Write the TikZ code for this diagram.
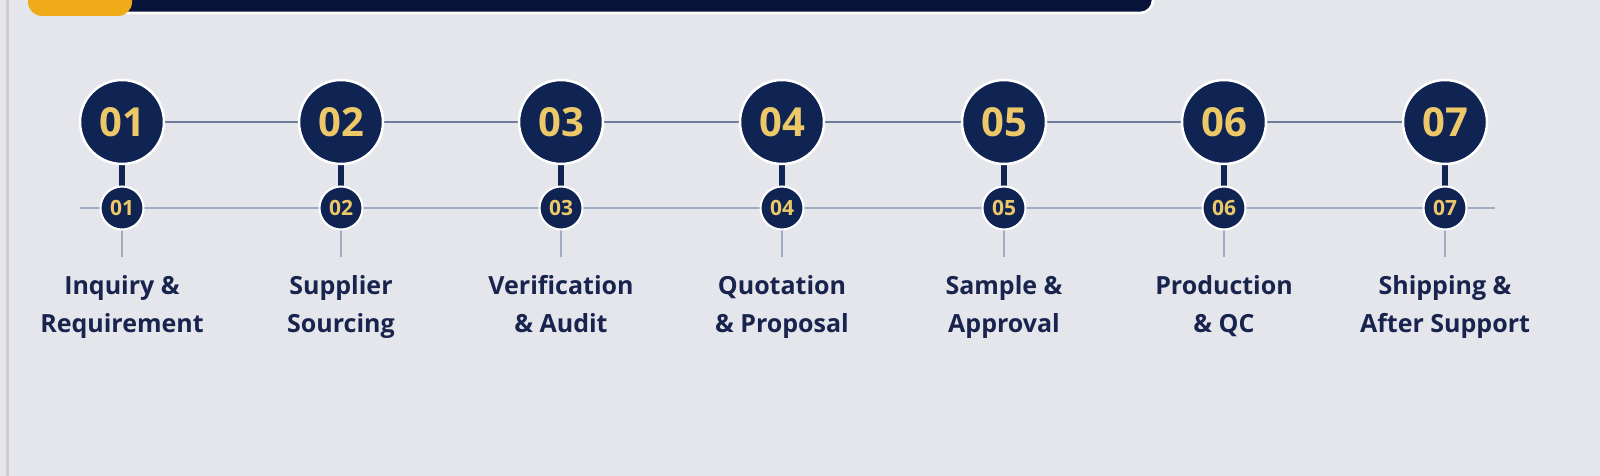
\documentclass[tikz,border=0pt]{standalone}
\usepackage{fontspec}
\setmainfont{Open Sans}
\definecolor{bgc}{RGB}{229,230,235}
\definecolor{navy}{RGB}{16,36,84}
\definecolor{navydark}{RGB}{8,20,58}
\definecolor{gold}{RGB}{236,200,105}
\definecolor{amber}{RGB}{240,172,24}
\definecolor{linec}{RGB}{110,124,155}
\definecolor{linel}{RGB}{160,172,195}
\definecolor{textc}{RGB}{24,36,78}
\tikzset{
  bigc/.style={circle,fill=navy,draw=white,line width=2.5pt,minimum size=84pt,inner sep=0pt,
    text=gold,font=\fontsize{40}{40}\selectfont\bfseries},
  smallc/.style={circle,fill=navy,draw=white,line width=2pt,minimum size=43pt,inner sep=0pt,
    text=gold,font=\fontsize{21}{21}\selectfont\bfseries},
  lbl/.style={align=center,text=textc,font=\fontsize{25}{38}\selectfont\bfseries,inner sep=0pt,anchor=north},
  topline/.style={draw=linec,line width=2.5pt},
  lowline/.style={draw=linel,line width=2.2pt},
  stem/.style={draw=navy,line width=6pt},
  tail/.style={draw=linel,line width=2pt}
}
\begin{document}
\begin{tikzpicture}[x=1pt,y=-1pt]
\useasboundingbox (0,0) rectangle (1600,476);
\fill[bgc] (0,0) rectangle (1600,476);
\draw[draw=black!20,line width=3pt] (7,0) -- (7,476);
% banner
\node[draw=white,line width=2.5pt,fill=navydark,rounded corners=13pt,minimum width=1040pt,minimum height=40pt,inner sep=0pt] (banner) at (633,-7) {};
\node[fill=amber,rounded corners=14pt,minimum width=104pt,minimum height=44pt,inner sep=0pt] (tab) at (80,-6) {};
% steps
\foreach \i/\x in {1/122,2/341,3/561,4/782,5/1004,6/1224,7/1445}{
  \coordinate (t\i) at (\x,257);
}
\coordinate (lowstart) at (80,208);
\coordinate (lowend) at (1495,208);
\draw[lowline] (lowstart) -- (lowend);
\foreach \i/\x in {1/122,2/341,3/561,4/782,5/1004,6/1224,7/1445}{
  \draw[tail] (\x,228) -- (t\i);
}
\draw[topline] (122,122) -- (1445,122);
\foreach \i/\x in {1/122,2/341,3/561,4/782,5/1004,6/1224,7/1445}{
  \draw[stem] (\x,150) -- (\x,195);
}
\node[bigc] (b1) at (122,122) {01};
\node[bigc] (b2) at (341,122) {02};
\node[bigc] (b3) at (561,122) {03};
\node[bigc] (b4) at (782,122) {04};
\node[bigc] (b5) at (1004,122) {05};
\node[bigc] (b6) at (1224,122) {06};
\node[bigc] (b7) at (1445,122) {07};
\node[smallc] (s1) at (122,208) {01};
\node[smallc] (s2) at (341,208) {02};
\node[smallc] (s3) at (561,208) {03};
\node[smallc] (s4) at (782,208) {04};
\node[smallc] (s5) at (1004,208) {05};
\node[smallc] (s6) at (1224,208) {06};
\node[smallc] (s7) at (1445,208) {07};
\node[lbl] (l1) at (122,275) {Inquiry \&\\Requirement};
\node[lbl] (l2) at (341,275) {Supplier\\Sourcing};
\node[lbl] (l3) at (561,275) {Verification\\\& Audit};
\node[lbl] (l4) at (782,275) {Quotation\\\& Proposal};
\node[lbl] (l5) at (1004,275) {Sample \&\\Approval};
\node[lbl] (l6) at (1224,275) {Production\\\& QC};
\node[lbl] (l7) at (1445,275) {Shipping \&\\After Support};
\end{tikzpicture}
\end{document}
